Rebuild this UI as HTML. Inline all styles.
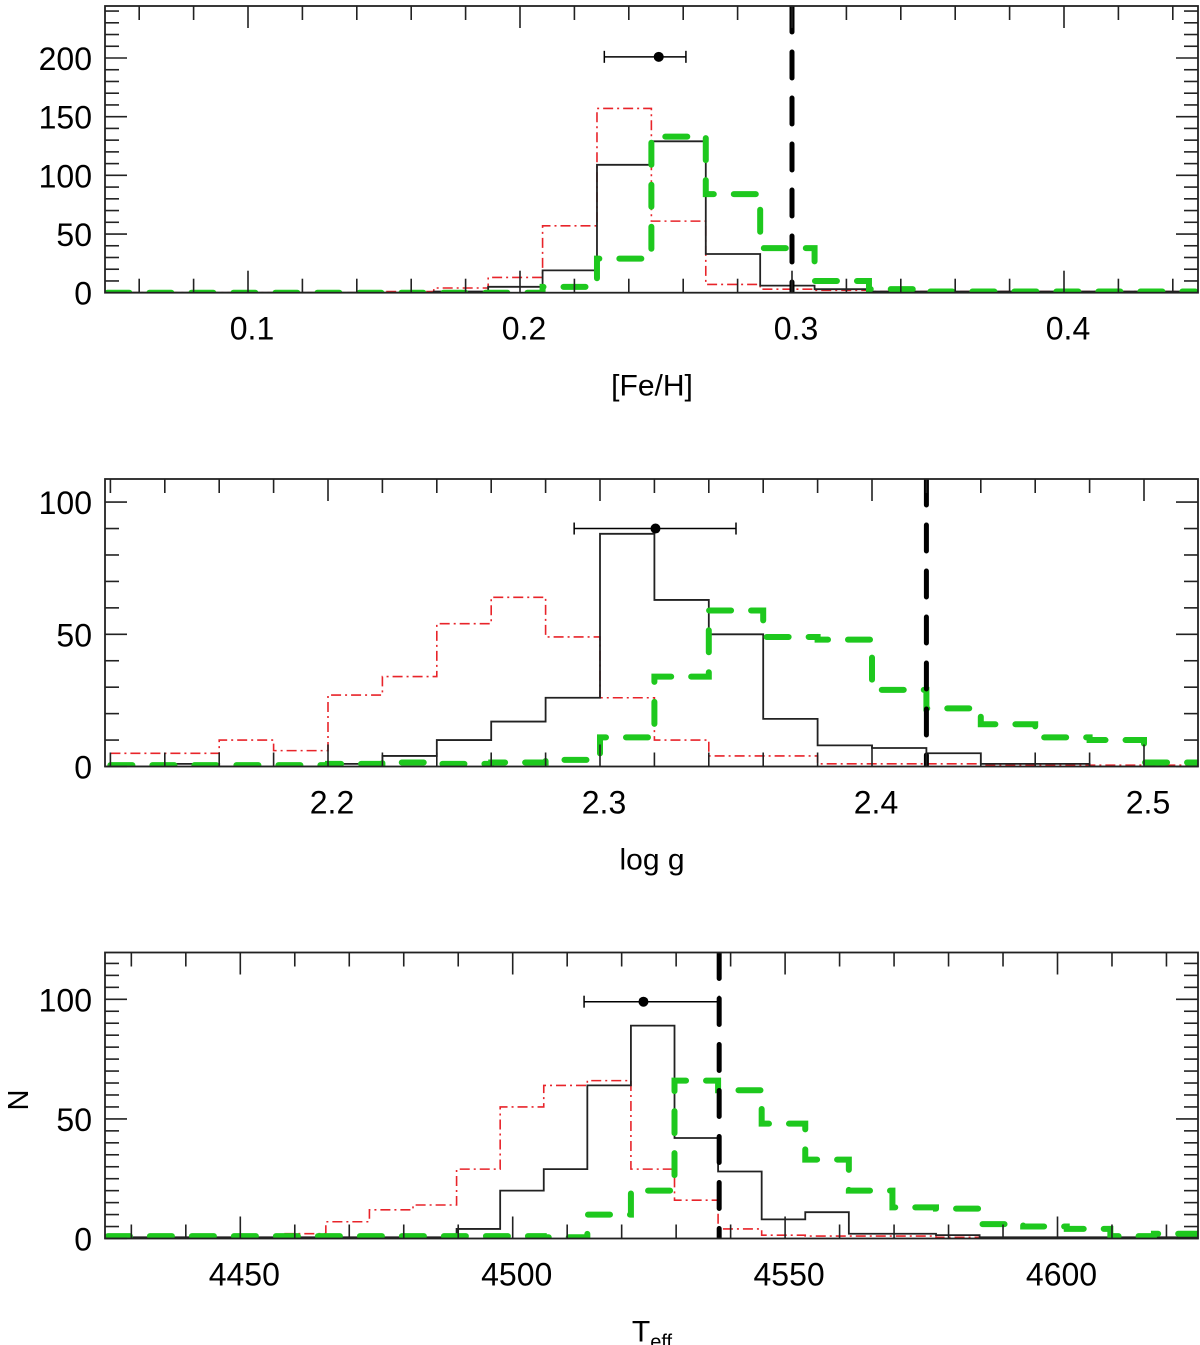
<!DOCTYPE html>
<html><head><meta charset="utf-8"><style>
body{margin:0;background:#fff;}
svg{display:block;font-family:"Liberation Sans",Arial,sans-serif;}
</style></head><body>
<svg id="chart" width="1200" height="1345" viewBox="0 0 1200 1345" xmlns="http://www.w3.org/2000/svg"></svg>
<script>
// ---------- Panel 1: [Fe/H] ----------
const feh_ticks = [0.1, 0.2, 0.3, 0.4];
const feh_yticks = [0, 50, 100, 150, 200];
const feh_black = [0,0,0,0,0,0,1,5,19,109,129,33,6,3,1,1,1,1,1,1];
const feh_red   = [0,0,0,0,0,1,4,13,57,157,61,7,3,2,1,1,1,1,1,1];
const feh_green = [0,0,0,0,0,0,0,0,5,29,133,84,38,10,3,1,1,1,1,1];
const feh_err = [0.231, 0.251, 0.261, 201];
const feh_ref = 0.3;
// ---------- Panel 2: log g ----------
const logg_ticks = [2.2, 2.3, 2.4, 2.5];
const logg_yticks = [0, 50, 100];
const logg_black = [0,1,0,0,1,4,10,17,26,88,63,50,18,8,7,5,1,1,0,0];
const logg_red   = [5,5,10,6,27,34,54,64,49,26,10,4,4,1,1,1,0.5,0.5,0.5,0.5];
const logg_green = [0.5,0.5,0.5,0.5,1,1.5,1,1.5,2.5,11,34,59,49,48,29,22,16,11,10,1.5];
const logg_err = [2.2905, 2.3204, 2.350, 90];
const logg_ref = 2.42;
// ---------- Panel 3: Teff ----------
const teff_ticks = [4450, 4500, 4550, 4600];
const teff_yticks = [0, 50, 100];
const teff_black = [0.5,0.5,0.5,0.5,0.5,0.5,0.5,0.5,4,20,29,64,89,42,28,8,11,2,2,1.4,0.5,0.5,0.5,0.5,0.5];
const teff_red   = [0.5,0.5,0.5,0.5,2,7,12,14,29,55,64,66,29,16,4,1.4,1,1,1,0.5,0,0,0,0,0];
const teff_green = [1,1,1,1,1,1,1,1,1,1,0.5,10,20,66,62,48,33,20,13,12.5,6,5,4,1,2];
const teff_err = [4513.1, 4524.0, 4537.9, 99];
const teff_ref = 4537.9;

const NS = "http://www.w3.org/2000/svg";
const svg = document.getElementById('chart');
function el(tag, attrs, parent){const e=document.createElementNS(NS,tag);for(const k in attrs)e.setAttribute(k,attrs[k]);(parent||svg).appendChild(e);return e;}

const L=105, R=1198;
function panel(cfg){
  const g = el('g',{});
  
  
  const xs = v => cfg.x0px + (v - cfg.x0) * cfg.xk;
  const ys = v => cfg.y0px - v * cfg.yk;
  const cid = 'clip-' + cfg.name;
  const defs = el('defs',{},g);
  const cp = el('clipPath',{id:cid},defs);
  el('rect',{x:L,y:cfg.top,width:R-L,height:cfg.y0px-cfg.top},cp);
  const plot = el('g',{'clip-path':'url(#'+cid+')'},g);
  function hist(vals, name, style){
    let d='';
    vals.forEach((v,i)=>{
      const xa = xs(cfg.e0 + i*cfg.bw), xb = xs(cfg.e0 + (i+1)*cfg.bw);
      d += (i===0 ? 'M'+xa+','+ys(v) : 'V'+ys(v)) + 'H'+xb;
    });
    const p = el('path',Object.assign({d:d,fill:'none'},style),plot);
    
    
  }
  hist(cfg.red, 'red-histogram', {stroke:'#e8242a','stroke-width':1.6,'stroke-dasharray':'10 4 2 4'});
  hist(cfg.black, 'black-histogram', {stroke:'#222','stroke-width':1.8});
  hist(cfg.green, 'green-histogram', {stroke:'#1ec81e','stroke-width':6,'stroke-dasharray':'22 20','stroke-linecap':'round'});
  const ref = el('line',{x1:xs(cfg.ref),x2:xs(cfg.ref),y1:cfg.top,y2:cfg.y0px,stroke:'#000','stroke-width':5,'stroke-dasharray':'26 20','stroke-linecap':'round'},plot);
  
  
  const eb = el('g',{},g);
  
  
  const ey = ys(cfg.err[3]);
  el('line',{x1:xs(cfg.err[0]),x2:xs(cfg.err[2]),y1:ey,y2:ey,stroke:'#000','stroke-width':1.5},eb);
  el('line',{x1:xs(cfg.err[0]),x2:xs(cfg.err[0]),y1:ey-6,y2:ey+6,stroke:'#000','stroke-width':1.5},eb);
  el('line',{x1:xs(cfg.err[2]),x2:xs(cfg.err[2]),y1:ey-6,y2:ey+6,stroke:'#000','stroke-width':1.5},eb);
  el('circle',{cx:xs(cfg.err[1]),cy:ey,r:5,fill:'#000'},eb);
  const fr = el('rect',{x:L,y:cfg.top,width:R-L,height:cfg.y0px-cfg.top,fill:'none',stroke:'#222','stroke-width':1.8},g);
  
  
  const xmin = cfg.x0 + (L-cfg.x0px)/cfg.xk, xmax = cfg.x0 + (R-cfg.x0px)/cfg.xk;
  const nmin = Math.ceil(xmin/cfg.xminor - 1e-6), nmax = Math.floor(xmax/cfg.xminor + 1e-6);
  for(let n=nmin;n<=nmax;n++){
    const v=n*cfg.xminor, px=xs(v);
    const major = Math.abs(v/cfg.xmajor - Math.round(v/cfg.xmajor))<1e-6;
    const len = major?22:14;
    el('line',{x1:px,x2:px,y1:cfg.y0px,y2:cfg.y0px-len,stroke:'#222','stroke-width':1.6},g);
    el('line',{x1:px,x2:px,y1:cfg.top,y2:cfg.top+len,stroke:'#222','stroke-width':1.6},g);
  }
  cfg.xticks.forEach(v=>{
    const t = el('text',{x:xs(v)+4,y:cfg.y0px+47,'font-size':32,'text-anchor':'middle',fill:'#000'},g);
    t.textContent = cfg.fmt(v);
    
    
  });
  const ymax = (cfg.y0px-cfg.top)/cfg.yk;
  for(let v=0; v<=ymax+1e-6; v+=cfg.yminor){
    const py=ys(v);
    const major = Math.abs(v % 50) < 1e-6;
    const len = major?22:14;
    el('line',{x1:L,x2:L+len,y1:py,y2:py,stroke:'#222','stroke-width':1.6},g);
    el('line',{x1:R,x2:R-len,y1:py,y2:py,stroke:'#222','stroke-width':1.6},g);
  }
  cfg.yticks.forEach(v=>{
    const t = el('text',{x:92,y:ys(v)+12,'font-size':32,'text-anchor':'end',fill:'#000'},g);
    t.textContent = v;
    
    
  });
  const tt = el('text',{x:652,y:cfg.y0px+103,'font-size':30,'text-anchor':'middle',fill:'#000'},g);
  tt.innerHTML = cfg.title;
  
  
}

panel({name:'feh-panel',top:6,y0px:292.7,yk:1.1735,x0:0.1,x0px:248,xk:2720,e0:0.0483,bw:0.02,
  xminor:0.02,xmajor:0.1,yminor:10,xticks:feh_ticks,yticks:feh_yticks,fmt:v=>v.toFixed(1),
  black:feh_black,red:feh_red,green:feh_green,err:feh_err,ref:feh_ref,title:'[Fe/H]'});
panel({name:'logg-panel',top:479,y0px:766.5,yk:2.644,x0:2.3,x0px:600,xk:2720,e0:2.12,bw:0.02,
  xminor:0.02,xmajor:0.1,yminor:10,xticks:logg_ticks,yticks:logg_yticks,fmt:v=>v.toFixed(1),
  black:logg_black,red:logg_red,green:logg_green,err:logg_err,ref:logg_ref,title:'log g'});
panel({name:'teff-panel',top:952.5,y0px:1238.5,yk:2.392,x0:4450,x0px:240.3,xk:5.448,e0:4425.7,bw:8,
  xminor:10,xmajor:50,yminor:5,xticks:teff_ticks,yticks:teff_yticks,fmt:v=>String(v),
  black:teff_black,red:teff_red,green:teff_green,err:teff_err,ref:teff_ref,
  title:'T<tspan font-size="20" dy="7">eff</tspan>'});

const n = el('text',{x:0,y:0,'font-size':29,'text-anchor':'middle',fill:'#000',transform:'translate(28,1100) rotate(-90)'});
n.textContent='N';


</script>
</body></html>
